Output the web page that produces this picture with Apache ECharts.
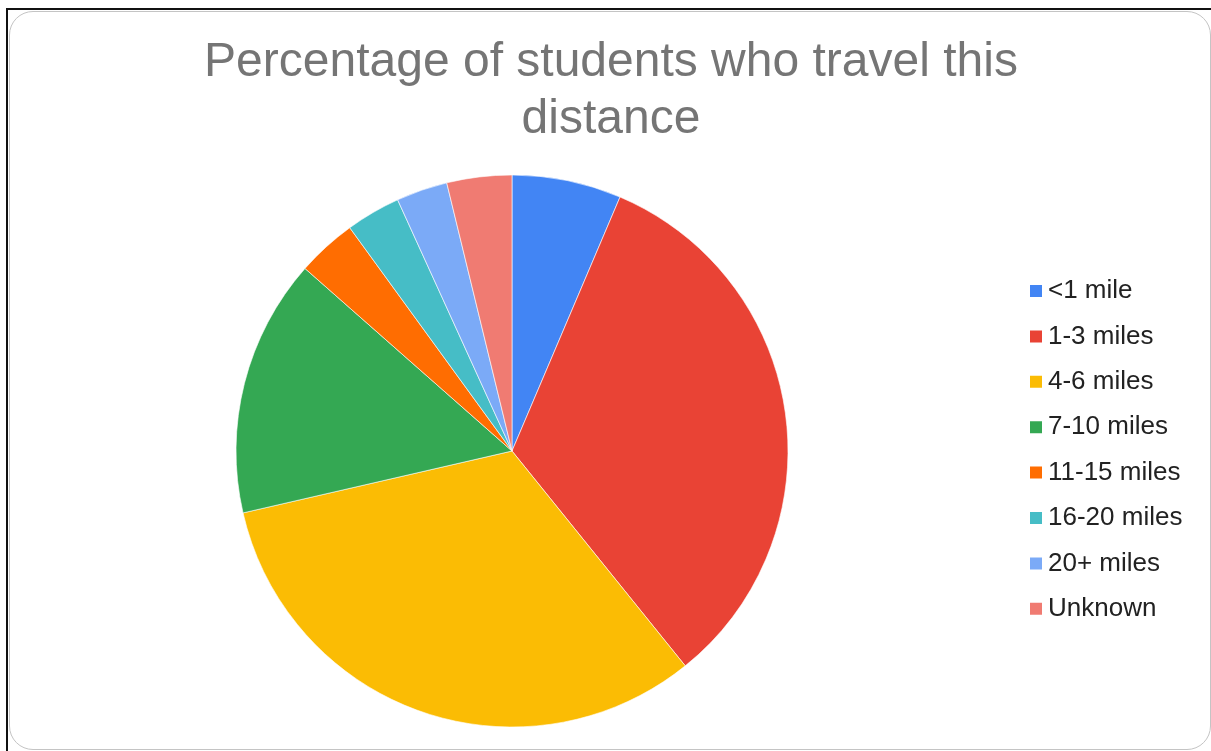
<!DOCTYPE html>
<html>
<head>
<meta charset="utf-8">
<script src="https://cdn.jsdelivr.net/npm/echarts@6/dist/echarts.min.js"></script>
<style>
  html, body { margin: 0; padding: 0; background: #fff; }
  #frame {
    position: absolute; left: 6px; top: 8px; width: 1300px; height: 800px;
    border-top: 2px solid #111; border-left: 2px solid #111;
  }
  #card {
    position: absolute; left: 9px; top: 11px; width: 1200px; height: 737px;
    border: 1.5px solid #c4c4c4; border-radius: 24px; background: #fff;
  }
  #chart { position: absolute; left: 0; top: 0; width: 1211px; height: 751px; }
</style>
</head>
<body>
<div id="frame"></div>
<div id="card"></div>
<div id="chart"></div>
<script>
// Distance bands and the share of students in each (percent)
const categories = ['<1 mile', '1-3 miles', '4-6 miles', '7-10 miles', '11-15 miles', '16-20 miles', '20+ miles', 'Unknown'];
const shares = [6.4, 32.8, 32.2, 15.1, 3.5, 3.2, 3.0, 3.8];
const colors = ['#4285F4', '#E94335', '#FBBC04', '#34A853', '#FF6D01', '#46BDC6', '#7BAAF7', '#F07B72'];

const chart = echarts.init(document.getElementById('chart'), null, { renderer: 'canvas' });

chart.setOption({
  backgroundColor: 'transparent',
  animation: false,
  color: colors,
  title: {
    text: 'Percentage of students who travel this\ndistance',
    left: 606,
    textAlign: 'center',
    top: 29,
    textStyle: {
      fontFamily: 'Liberation Sans, Arial, sans-serif',
      fontSize: 48,
      fontWeight: 'normal',
      color: '#757575',
      lineHeight: 57
    }
  },
  legend: {
    orient: 'vertical',
    left: 1028,
    top: 278,
    padding: 0,
    icon: 'rect',
    itemWidth: 14,
    itemHeight: 14,
    itemGap: 19.4,
    textStyle: {
      fontFamily: 'Liberation Sans, Arial, sans-serif',
      fontSize: 26,
      lineHeight: 26,
      color: '#222',
      padding: [0, 0, 0, 0]
    },
    data: categories
  },
  series: [{
    type: 'pie',
    center: [512, 451],
    radius: 276,
    startAngle: 90,
    clockwise: true,
    label: { show: false },
    labelLine: { show: false },
    itemStyle: { borderColor: '#ffffff', borderWidth: 0.6 },
    emphasis: { disabled: true },
    data: categories.map((name, i) => ({ name, value: shares[i] }))
  }]
});
</script>
</body>
</html>
